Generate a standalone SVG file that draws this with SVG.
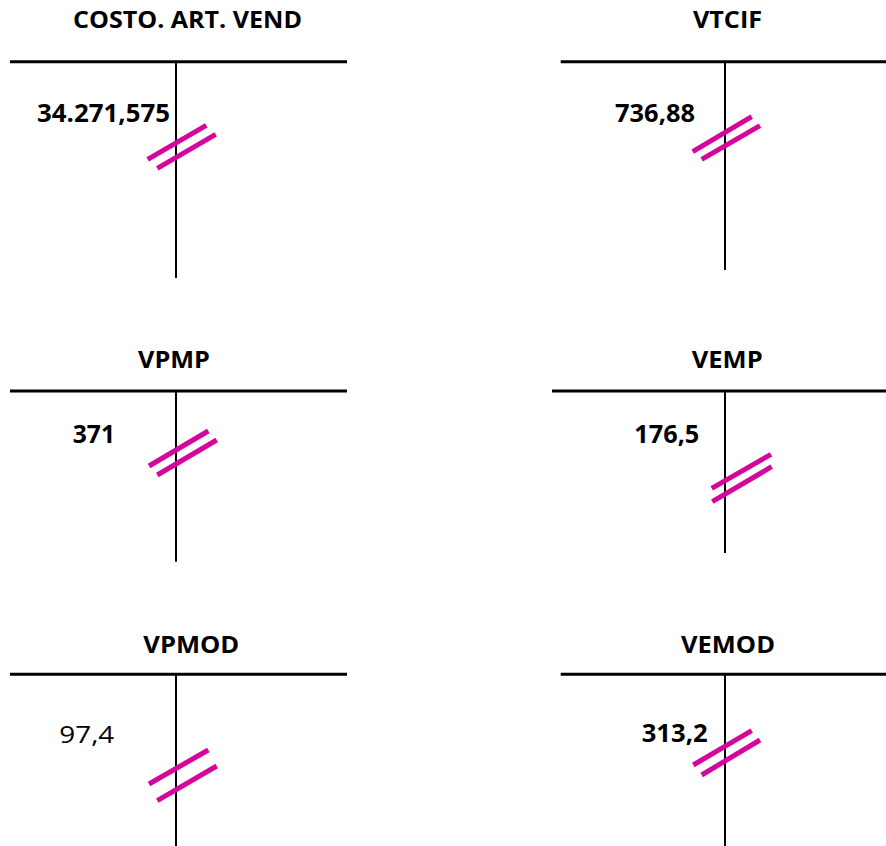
<svg xmlns="http://www.w3.org/2000/svg" width="886" height="846" viewBox="0 0 886 846">
<style>
.title{font-family:"Open Sans","Noto Sans",sans-serif;font-weight:bold;font-size:23.5px;fill:#000}
.num{font-family:"Open Sans","Noto Sans",sans-serif;font-weight:bold;font-size:24.5px;fill:#000}
.numr{font-family:"Open Sans","Noto Sans",sans-serif;font-weight:normal;font-size:24.5px;fill:#000}
.h{stroke:#000;stroke-width:3}
.v{stroke:#000;stroke-width:2}
.m{stroke:#D4069B;stroke-width:5}
</style>
<rect width="886" height="846" fill="#fff"/>
<g id="costo">
<text class="title" x="73" y="28.3" textLength="229" lengthAdjust="spacingAndGlyphs">COSTO. ART. VEND</text>
<line class="h" x1="10" y1="61.7" x2="347" y2="61.7"/>
<line class="v" x1="176" y1="61.7" x2="176" y2="278"/>
<text class="num" x="37" y="121.7" textLength="133" lengthAdjust="spacingAndGlyphs">34.271,575</text>
<line class="m" x1="147.7" y1="159.3" x2="206.3" y2="125.3"/>
<line class="m" x1="157.3" y1="168.3" x2="215.7" y2="134.3"/>
</g>
<g id="vtcif">
<text class="title" x="693" y="28.3" textLength="69" lengthAdjust="spacingAndGlyphs">VTCIF</text>
<line class="h" x1="560.7" y1="61.7" x2="886" y2="61.7"/>
<line class="v" x1="725" y1="61.7" x2="725" y2="270"/>
<text class="num" x="615" y="121.7" textLength="80" lengthAdjust="spacingAndGlyphs">736,88</text>
<line class="m" x1="692.7" y1="151.7" x2="751.7" y2="116.7"/>
<line class="m" x1="701.7" y1="159.3" x2="760" y2="125.7"/>
</g>
<g id="vpmp">
<text class="title" x="138" y="368.3" textLength="72" lengthAdjust="spacingAndGlyphs">VPMP</text>
<line class="h" x1="10" y1="391" x2="347" y2="391"/>
<line class="v" x1="176" y1="391" x2="176" y2="561.7"/>
<text class="num" x="72.7" y="443.3" textLength="42.3" lengthAdjust="spacingAndGlyphs">371</text>
<line class="m" x1="149" y1="466" x2="208.3" y2="431"/>
<line class="m" x1="157.3" y1="475" x2="216.7" y2="440"/>
</g>
<g id="vemp">
<text class="title" x="691.7" y="368.3" textLength="71" lengthAdjust="spacingAndGlyphs">VEMP</text>
<line class="h" x1="552" y1="391" x2="886" y2="391"/>
<line class="v" x1="725" y1="391" x2="725" y2="553"/>
<text class="num" x="634.3" y="443.3" textLength="65" lengthAdjust="spacingAndGlyphs">176,5</text>
<line class="m" x1="711.7" y1="488.3" x2="771" y2="454.3"/>
<line class="m" x1="712.3" y1="501.7" x2="771.7" y2="466.7"/>
</g>
<g id="vpmod">
<text class="title" x="143.3" y="652.7" textLength="96" lengthAdjust="spacingAndGlyphs">VPMOD</text>
<line class="h" x1="10" y1="674.3" x2="347" y2="674.3"/>
<line class="v" x1="176" y1="674.3" x2="176" y2="846"/>
<text class="numr" x="59.3" y="742.7" textLength="55" lengthAdjust="spacingAndGlyphs">97,4</text>
<line class="m" x1="149" y1="784" x2="208.3" y2="750"/>
<line class="m" x1="157.3" y1="800.7" x2="216.7" y2="766"/>
</g>
<g id="vemod">
<text class="title" x="681" y="652.7" textLength="94" lengthAdjust="spacingAndGlyphs">VEMOD</text>
<line class="h" x1="560.7" y1="674.3" x2="886" y2="674.3"/>
<line class="v" x1="725" y1="674.3" x2="725" y2="846"/>
<text class="num" x="641.7" y="741.7" textLength="66" lengthAdjust="spacingAndGlyphs">313,2</text>
<line class="m" x1="693.3" y1="765" x2="751.7" y2="730.7"/>
<line class="m" x1="701.7" y1="775" x2="760" y2="740"/>
</g>
<g id="connectors"/>
</svg>
